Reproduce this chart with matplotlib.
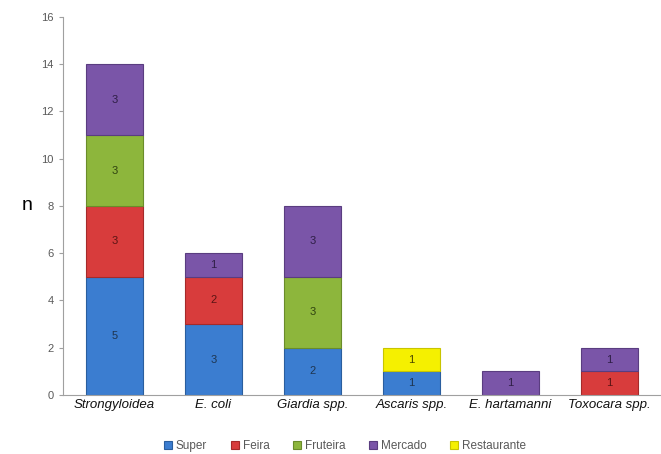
import numpy as np
import matplotlib
matplotlib.use("Agg")
import matplotlib.pyplot as plt

categories = ["Strongyloidea", "E. coli", "Giardia spp.", "Ascaris spp.",
              "E. hartamanni", "Toxocara spp."]
series = ["Super", "Feira", "Fruteira", "Mercado", "Restaurante"]
super_ = [5, 3, 2, 1, 0, 0]
feira = [3, 2, 0, 0, 0, 1]
fruteira = [3, 0, 3, 0, 0, 0]
mercado = [3, 1, 3, 0, 1, 1]
restaurante = [0, 0, 0, 1, 0, 0]
values = [super_, feira, fruteira, mercado, restaurante]

colors = ["#3B7DD0", "#D83C3C", "#8DB63C", "#7A55A8", "#F5F000"]
edges = ["#2A5E9E", "#A52A2A", "#6A8C2A", "#5A3D80", "#C8C400"]
txtcol = ["#1E3550", "#5A1414", "#2F4210", "#2E1E45", "#4A4700"]

plt.rcParams["font.family"] = ["Liberation Sans", "DejaVu Sans"]

fig = plt.figure(figsize=(6.61, 4.54), dpi=100)
ax = fig.add_axes([0.095, 0.130, 0.905, 0.8326])

x = np.arange(len(categories))
bottom = np.zeros(len(categories))
handles = []
for i, name in enumerate(series):
    v = np.array(values[i], dtype=float)
    keep = v > 0
    b = ax.bar(x[keep], v[keep], 0.58, bottom=bottom[keep], color=colors[i],
               edgecolor=edges[i], linewidth=0.8, label=name)
    handles.append(b)
    for xi, vi, bi in zip(x[keep], v[keep], bottom[keep]):
        ax.text(xi, bi + vi / 2, "%d" % vi, ha="center", va="center",
                fontsize=8, color=txtcol[i])
    bottom += v

ax.set_xlim(-0.52, 5.52)
ax.set_ylim(0, 16)
ax.set_yticks(range(0, 17, 2))
ax.tick_params(axis="y", colors="#A0A0A0", labelcolor="#595959", labelsize=8,
               length=3, width=0.8)
ax.tick_params(axis="x", length=0, labelsize=9.5, pad=3)
ax.set_xticks(x)
ax.set_xticklabels(categories, style="italic", color="#111111")
for s in ["top", "right"]:
    ax.spines[s].set_visible(False)
ax.spines["left"].set_color("#A0A0A0")
ax.spines["bottom"].set_color("#A0A0A0")

fig.text(22 / 661, 1 - 205 / 454, "n", fontsize=14, ha="left", va="center")

leg = fig.legend(handles=handles, labels=series, loc="center",
                 bbox_to_anchor=(345 / 661, 1 - 446 / 454), ncol=5,
                 frameon=False, fontsize=8.5, handlelength=0.7,
                 handleheight=0.7, handletextpad=0.3, columnspacing=2.0)
for t in leg.get_texts():
    t.set_color("#595959")

fig.savefig("out.png", dpi=100)
